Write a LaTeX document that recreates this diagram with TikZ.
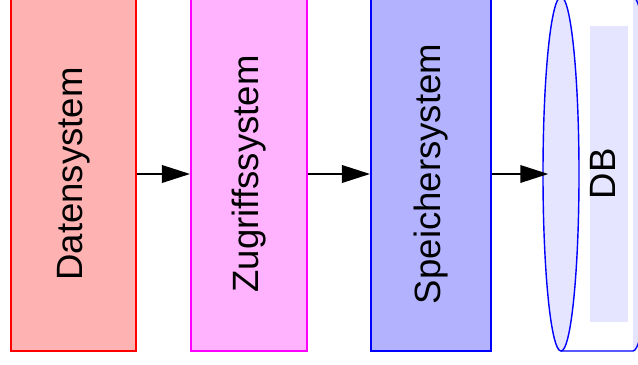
\documentclass[tikz,border=0pt]{standalone}
\usepackage{fontspec}
\setmainfont{Liberation Sans}
\usetikzlibrary{shapes.geometric, arrows.meta}
\definecolor{magline}{RGB}{255,0,255}
\definecolor{magfill}{RGB}{255,179,255}

\tikzset{
  sysbox/.style={rectangle, rotate=90, line width=1.4pt, minimum width=8.85cm, inner sep=0pt, font=\fontsize{26}{31}\selectfont},
  arr/.style={line width=1.1pt, -{Triangle[length=0.7cm,width=0.44cm]}}
}

\begin{document}
\begin{tikzpicture}[x=0.025cm,y=-0.025cm]
\useasboundingbox (0,0) rectangle (638,365);
\clip (0,0) rectangle (638,365);
\node[sysbox, draw=red, fill=red!30, minimum height=3.125cm] (daten) at (73.5,174) {Datensystem};
\node[sysbox, draw=magline, fill=magfill, minimum height=2.9cm] (zugriff) at (249,174) {Zugriffssystem};
\node[sysbox, draw=blue, fill=blue!30, minimum height=3cm] (speicher) at (431,174) {Speichersystem};
% cylinder DB
\fill[blue!10] (633,351) arc[start angle=-90, end angle=90, x radius=0.45cm, y radius=4.425cm] -- cycle;
\draw[blue, line width=1pt] (561,351) -- (633,351) arc[start angle=-90, end angle=90, x radius=0.45cm, y radius=4.425cm] -- (561,-3);
\node[ellipse, draw=blue, fill=blue!10, line width=1pt, inner sep=0pt, minimum width=0.9cm, minimum height=8.85cm] (dbcap) at (561,174) {};
\node[rectangle, rotate=90, fill=blue!10, inner sep=0pt, minimum width=7.4cm, minimum height=0.95cm, text depth=0.3cm, font=\fontsize{26}{31}\selectfont] (dbbox) at (609,174) {DB};
\draw[arr] (daten) -- (zugriff);
\draw[arr] (zugriff) -- (speicher);
\draw[arr, shorten >=-0.15cm] (speicher) -- (dbcap);
\end{tikzpicture}
\end{document}
